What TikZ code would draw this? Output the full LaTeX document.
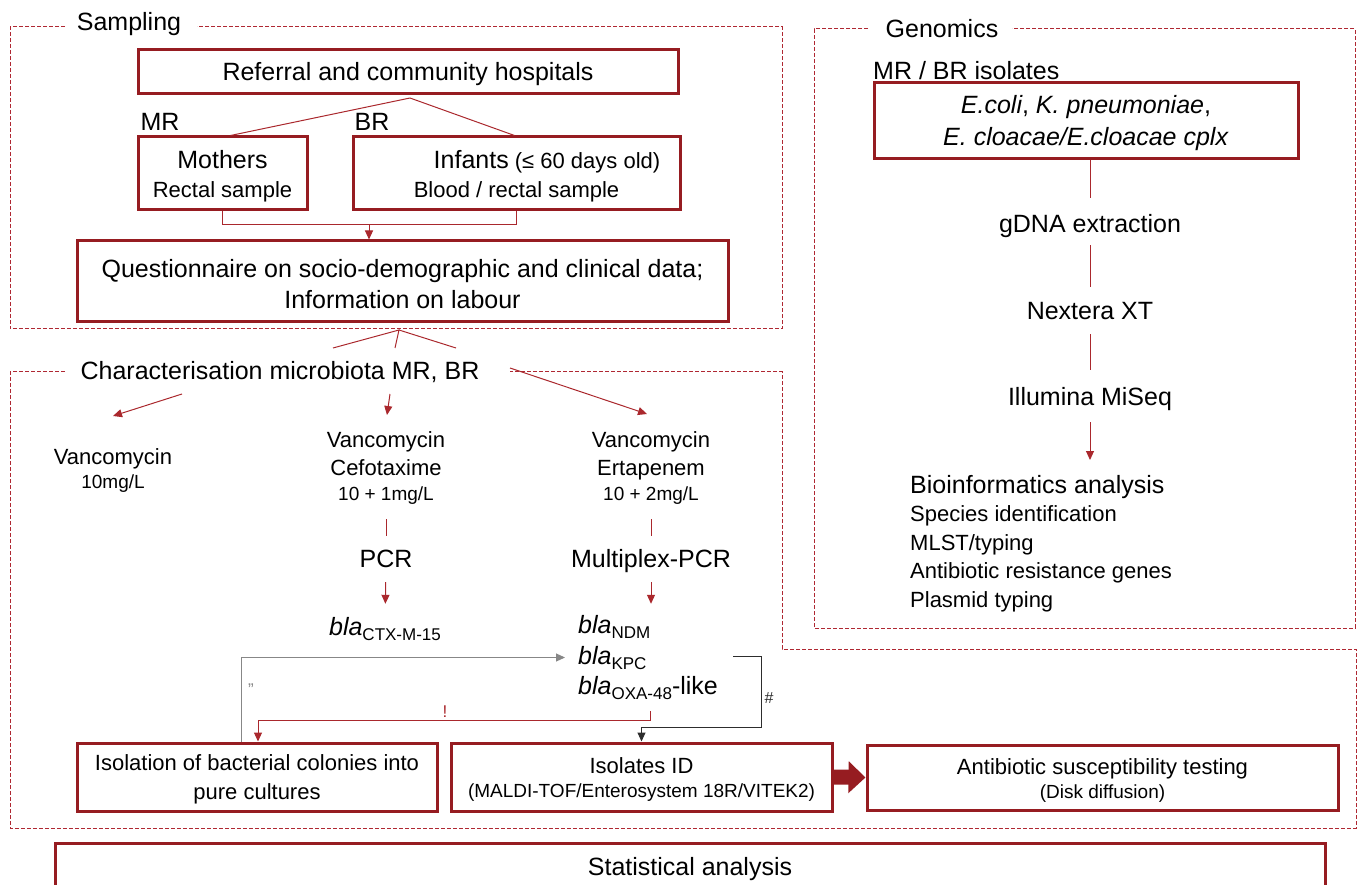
\documentclass[tikz,border=0pt]{standalone}
\usepackage{fontspec}
\setmainfont{Liberation Sans}
\usetikzlibrary{arrows.meta,calc}
\definecolor{dred}{RGB}{150,28,33}
\definecolor{lred}{RGB}{170,40,45}
\definecolor{fred}{RGB}{175,40,50}
\definecolor{gcol}{RGB}{135,135,135}
\definecolor{kcol}{RGB}{45,45,45}
\newcommand\myL{\fontsize{25}{30}\selectfont}
\newcommand\myM{\fontsize{22}{27}\selectfont}
\newcommand\myS{\fontsize{19}{23}\selectfont}
\newcommand\upL{\rule{0pt}{23pt}}
\newcommand\upM{\rule{0pt}{21.5pt}}
\newcommand\myB[1]{\textit{bla}\raisebox{-5pt}{\fontsize{17}{17}\selectfont #1}}
\tikzset{
  box/.style={draw=dred, line width=3pt, inner sep=0pt, align=center},
  frame/.style={draw=fred, line width=1pt, dash pattern=on 4pt off 2pt},
  conn/.style={draw=lred, line width=1pt},
  tipR/.style={-{Triangle[length=9pt,width=8pt]}},
  arr/.style={conn, tipR},
  tL/.style={inner sep=0pt, font=\myL, text height=18pt, text depth=5pt},
  tM/.style={inner sep=0pt, font=\myM, text height=16pt, text depth=4.5pt},
  tS/.style={inner sep=0pt, font=\myS, text height=14pt, text depth=4pt},
}
\begin{document}
\begin{tikzpicture}[x=1pt,y=-1pt]
\useasboundingbox (0,0) rectangle (1358,885);

% ---------- frames
\draw[frame] (65,27) -- (10,27) -- (10,329) -- (782,329) -- (782,27) -- (197,27);
\draw[frame] (65,372) -- (10,372) -- (10,828) -- (1356,828) -- (1356,649) -- (782,649) -- (782,372) -- (510,372);
\draw[frame] (868,29) -- (814,29) -- (814,628) -- (1355,628) -- (1355,29) -- (1012,29);

% ---------- Sampling
\node[tL, anchor=base] (samp) at (129,31) {Sampling};
\node[box, minimum width=540pt, minimum height=44pt, font=\myL, text height=23pt, text depth=5pt] (ref) at (408,72) {Referral and community hospitals};
\node[tL, anchor=base] (mr) at (160,131) {MR};
\node[tL, anchor=base] (br) at (372,131) {BR};
\node[box, minimum width=169pt, minimum height=73pt, font=\myM] (moth) at (222.5,173.5) {\upL{\myL Mothers}\\[2pt]Rectal sample};
\node[box, minimum width=327pt, minimum height=73pt, font=\myM] (inf) at (516.5,173.5) {\upL\hspace*{61pt}{\myL Infants} (≤ 60 days old)\\[2pt]Blood / rectal sample};
\node[box, minimum width=651pt, minimum height=81pt, font=\myL] (quest) at (402.5,281.5) {\upL Questionnaire on socio-demographic and clinical data;\\[1pt]Information on labour};

\coordinate (ap1) at (410,98);
\draw[conn] (ap1) -- ([xshift=8pt]moth.north);
\draw[conn] (ap1) -- ([xshift=-2pt]inf.north);
\draw[conn] (moth.south) -- ++(0,13) -| (inf.south);
\coordinate (j1) at (369,224.5);
\draw[arr] (j1) -- (j1 |- quest.north);

% ---------- Characterisation
\node[tL, anchor=base] (char) at (280,380) {Characterisation microbiota MR, BR};
\coordinate (ap2) at (399,330);
\coordinate (l1) at (333,348);
\coordinate (l2) at (395,348);
\coordinate (l3) at (456,348);
\draw[conn] (l1) -- (ap2) -- (l2);
\draw[conn] (ap2) -- (l3);

\coordinate (c1a) at (182,394); \coordinate (c1b) at (113,416);
\coordinate (c2a) at (390,394); \coordinate (c2b) at (387,415);
\coordinate (c3a) at (510,368); \coordinate (c3b) at (647,414);
\draw[arr] (c1a) -- (c1b);
\draw[arr] (c2a) -- (c2b);
\draw[arr] (c3a) -- (c3b);

\node[tM, anchor=base] (v1a) at (113,464) {Vancomycin};
\node[tS, anchor=base] (v1b) at (113,488) {10mg/L};
\node[tM, anchor=base] (v2a) at (386,447) {Vancomycin};
\node[tM, anchor=base] (v2b) at (386,475) {Cefotaxime};
\node[tS, anchor=base] (v2c) at (386,500) {10 + 1mg/L};
\node[tM, anchor=base] (v3a) at (651,447) {Vancomycin};
\node[tM, anchor=base] (v3b) at (651,475) {Ertapenem};
\node[tS, anchor=base] (v3c) at (651,500) {10 + 2mg/L};

\node[tL, anchor=base] (pcr) at (386,567) {PCR};
\node[tL, anchor=base] (mpcr) at (651,567) {Multiplex-PCR};
\draw[conn, shorten <=15pt, shorten >=13pt] (v2c) -- (pcr);
\draw[conn, shorten <=15pt, shorten >=13pt] (v3c) -- (mpcr);

\node[tL, anchor=base] (ctx) at (385,635) {\myB{CTX-M-15}};
\node[tL, anchor=base west] (bndm) at (578,633) {\myB{NDM}};
\node[tL, anchor=base west] (bkpc) at (578,664) {\myB{KPC}};
\node[tL, anchor=base west] (boxa) at (578,694) {\myB{OXA-48}-like};
\draw[arr, shorten <=10pt, shorten >=13pt] (pcr) -- (ctx);
\draw[arr, shorten <=10pt, shorten >=11pt] (mpcr.south) -- (mpcr.south |- bndm.north);

% bottom boxes
\node[box, minimum width=360pt, minimum height=68pt, font=\myM] (isol) at (257,777) {\upM Isolation of bacterial colonies into\\[2pt]pure cultures};
\node[box, minimum width=381pt, minimum height=68pt, font=\myM] (isoid) at (641.5,777) {\upM Isolates ID\\[-3pt]{\myS (MALDI-TOF/Enterosystem 18R/VITEK2)}};
\node[box, minimum width=471pt, minimum height=65pt, font=\myM] (ast) at (1102.5,777.5) {\upM Antibiotic susceptibility testing\\[-3pt]{\myS (Disk diffusion)}};
\draw[dred, line width=15pt, -{Triangle[length=17pt,width=31pt]}] (isoid.east) -- (ast.west);

% gray connector
\draw[gcol, line width=1pt, -{Triangle[length=9pt,width=8pt]}, shorten >=13pt] ([xshift=-16pt]isol.north) |- (bkpc.west);
\node[text=gcol, inner sep=0pt, font=\fontsize{17}{17}\selectfont] (qm) at (251,690) {"};

% black connector
\coordinate (hk) at (733,656);
\coordinate (hk2) at (761,727);
\draw[kcol, line width=1pt, -{Triangle[length=9pt,width=8pt]}] (hk) -| (hk2) -| (isoid.north);
\node[text=kcol, inner sep=0pt, font=\fontsize{16}{16}\selectfont] (hs) at (769,698) {\#};

% red connector
\coordinate (ro) at (650,711);
\coordinate (ro2) at (650,720);
\draw[arr] (ro) -- (ro2) -| ([xshift=1pt]isol.north);
\node[text=lred, inner sep=0pt, font=\fontsize{17}{17}\selectfont] (ex) at (445,712) {!};

% statistical
\node[box, anchor=north, minimum width=1270pt, font=\myL, text height=18pt, text depth=60pt, inner ysep=14pt] (stat) at (690,842) {Statistical analysis};

% ---------- Genomics
\node[tL, anchor=base] (gen) at (942,38) {Genomics};
\node[tL, anchor=base west] (mrbr) at (873,80) {MR / BR isolates};
\node[box, minimum width=424pt, minimum height=76pt, font=\myL] (gbox) at (1086,121) {\upL\textit{E.coli}, \textit{K. pneumoniae},\\[2pt]\textit{E. cloacae/E.cloacae cplx}};
\node[tL, anchor=base] (gdna) at (1090,233) {gDNA extraction};
\node[tL, anchor=base] (next) at (1090,320) {Nextera XT};
\node[tL, anchor=base] (illu) at (1090,406) {Illumina MiSeq};
\node[anchor=north west, inner sep=0pt, align=left, font=\fontsize{22}{28.5}\selectfont] (bio) at (910,475) {{\myL Bioinformatics analysis}\\Species identification\\MLST/typing\\Antibiotic resistance genes\\Plasmid typing};

\draw[conn, shorten >=17pt] (gbox.south -| gdna.north) -- (gdna.north);
\draw[conn, shorten <=7pt, shorten >=15pt] (gdna) -- (next);
\draw[conn, shorten <=9pt, shorten >=18pt] (next) -- (illu);
\draw[arr, shorten <=11pt, shorten >=15pt] (illu.south) -- (illu.south |- bio.north);
\end{tikzpicture}
\end{document}
